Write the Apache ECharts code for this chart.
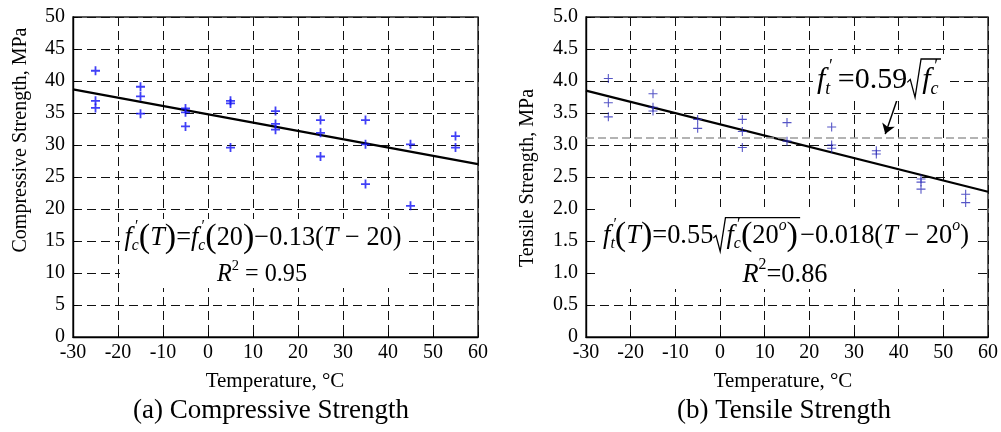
<!DOCTYPE html>
<html><head><meta charset="utf-8">
<script src="https://cdn.jsdelivr.net/npm/echarts@6/dist/echarts.min.js"></script>
<style>html,body{margin:0;padding:0;background:#fff}#c{width:1001px;height:432px}</style>
</head><body><div id="c"></div>
<script>
// ---------- data ----------
const compX = [-25,-25,-25,-15,-15,-15,-5,-5,-5,5,5,5,15,15,15,25,25,25,35,35,35,45,45,55,55];
const compY = [41.6,36.9,35.8,39.1,37.6,34.9,35.7,35.1,32.9,36.9,36.5,29.6,35.3,33.3,32.4,33.9,31.9,28.2,33.9,30.1,23.9,30.1,20.5,31.4,29.6];
const compFitX = [-30, 60];
const compFitY = [38.7, 27.0];

const tensX = [-25,-25,-25,-15,-15,-15,-5,-5,5,5,5,15,15,25,25,25,35,35,45,45,45,55,55];
const tensY = [4.04,3.66,3.44,3.80,3.59,3.53,3.40,3.26,3.40,3.21,2.96,3.35,3.06,3.28,3.00,2.95,2.91,2.86,2.47,2.42,2.31,2.23,2.10];
const tensFitX = [-30, 60];
const tensFitY = [3.85, 2.27];
const tensRef = 3.11;              // f't = 0.59 sqrt(f'c) level
const arrowFrom = [40.3, 3.84];
const arrowTo = [37.0, 3.17];

const xTicks = {min: -30, max: 60, step: 10};
const compTicks = {min: 0, max: 50, step: 5};
const tensTicks = {min: 0, max: 5, step: 0.5};

const texts = {
  compYTitle: 'Compressive Strength, MPa',
  tensYTitle: 'Tensile Strength, MPa',
  xTitle: 'Temperature, \u00B0C',
  capA: '(a) Compressive Strength',
  capB: '(b) Tensile Strength'
};

// ---------- helpers ----------
const zip = (a, b) => a.map((v, i) => [v, b[i]]);
const FF = '"Liberation Serif", "Times New Roman", serif';
const ctx = document.createElement('canvas').getContext('2d');
function fontStr(kind, S) {
  const m = {
    r: ['', 1], i: ['italic ', 1], sb: ['italic ', 0.6], pr: ['', 0.6],
    p: ['', 1.3], sup: ['', 0.6], supi: ['italic ', 0.6]
  }[kind];
  return m[0] + (S * m[1]).toFixed(2) + 'px ' + FF;
}
function tokWidth(t, S) {
  if (t[1] === 'rad') return 0.5 * S;
  if (t[1] === '/rad') return 0.08 * S;
  if (t[1] === 'pr') return 0;
  ctx.font = fontStr(t[1], S);
  return ctx.measureText(t[0]).width;
}
function eqn(tokens, cx, cy, targetW, S0) {
  let tot = tokens.reduce((s, t) => s + tokWidth(t, S0), 0);
  const S = S0 * targetW / tot;
  tot = tokens.reduce((s, t) => s + tokWidth(t, S), 0);
  let x = cx - tot / 2;
  const els = [];
  let radX = null;
  const dyMap = {r: 0, i: 0, sb: 0.3, pr: -0.42, p: 0, sup: -0.38, supi: -0.38};
  tokens.forEach(t => {
    const k = t[1];
    if (k === 'rad') { radX = x; x += 0.5 * S; return; }
    if (k === '/rad') {
      const x0 = radX, top = cy - 0.7 * S;
      els.push({type: 'polyline', z: 30, shape: {points: [
        [x0, cy + 0.08 * S], [x0 + 0.1 * S, cy - 0.02 * S], [x0 + 0.26 * S, cy + 0.58 * S],
        [x0 + 0.46 * S, top], [x + 0.08 * S, top]]},
        style: {stroke: '#000', lineWidth: 1.3, fill: null}});
      x += 0.08 * S; return;
    }
    const off = k === 'pr' ? 0.12 * S : 0;
    els.push({type: 'text', z: 30, x: x + off, y: cy + dyMap[k] * S,
      style: {text: t[0], font: fontStr(k, S), fill: '#000',
        textAlign: 'left', textVerticalAlign: 'middle', align: 'left', verticalAlign: 'middle'}});
    x += tokWidth(t, S);
  });
  return els;
}
function whiteBox(x, y, w, h) {
  return {type: 'rect', z: 20, shape: {x: x, y: y, width: w, height: h}, style: {fill: '#fff'}};
}
function label(txt, x, y, size, rot) {
  return {type: 'text', z: 30, x: x, y: y, rotation: rot || 0,
    style: {text: txt, font: size + 'px ' + FF, fill: '#000',
      textAlign: 'center', textVerticalAlign: 'middle', align: 'center', verticalAlign: 'middle'}};
}

const MINUS = '\u2212';
const eqLeft = [['f','i'],['\u2032','pr'],['c','sb'],['(','p'],['T','i'],[')','p'],['=','r'],
  ['f','i'],['\u2032','pr'],['c','sb'],['(','p'],['20','r'],[')','p'],[MINUS + '0.13(','r'],['T','i'],[' ' + MINUS + ' 20)','r']];
const r2Left = [['R','i'],['2','sup'],[' = 0.95','r']];
const eqRight = [['f','i'],['\u2032','pr'],['t','sb'],['(','p'],['T','i'],[')','p'],['=0.55','r'],['','rad'],
  ['f','i'],['\u2032','pr'],['c','sb'],['(','p'],['20','r'],['o','supi'],[')','p'],['','/rad'],
  [MINUS + '0.018','r'],['(','r'],['T','i'],[' ' + MINUS + ' 20','r'],['o','supi'],[')','r']];
const r2Right = [['R','i'],['2','sup'],['=0.86','r']];
const eqAnn = [['f','i'],['\u2032','pr'],['t','sb'],[' =0.59','r'],['','rad'],['f','i'],['\u2032','pr'],['c','sb'],['','/rad']];

// ---------- chart ----------
const plusBold = 'path://M4,0H6V4H10V6H6V10H4V6H0V4H4Z';
const plusThin = 'path://M4.4,0H5.6V4.4H10V5.6H5.6V10H4.4V5.6H0V4.4H4.4Z';
const split = {show: true, lineStyle: {color: '#111', type: [9, 5], width: 1}};
const tickLbl = {fontFamily: FF, fontSize: 20, color: '#000'};
function xAxis(gi) {
  return {gridIndex: gi, type: 'value', min: xTicks.min, max: xTicks.max, interval: xTicks.step,
    axisLine: {onZero: false, lineStyle: {color: '#000', width: 1.4}},
    axisTick: {inside: true, length: 5, lineStyle: {color: '#000'}},
    axisLabel: Object.assign({margin: 6}, tickLbl), splitLine: split};
}
function yAxis(gi, t, fmt) {
  return {gridIndex: gi, type: 'value', min: t.min, max: t.max, interval: t.step,
    axisLine: {onZero: false, lineStyle: {color: '#000', width: 1.4}},
    axisTick: {inside: true, length: 5, lineStyle: {color: '#000'}},
    axisLabel: Object.assign({margin: 8, formatter: fmt}, tickLbl), splitLine: split};
}

const chart = echarts.init(document.getElementById('c'), null, {renderer: 'canvas'});
chart.setOption({
  animation: false,
  backgroundColor: '#fff',
  grid: [
    {left: 73, top: 17, width: 405, height: 320, show: true, borderColor: '#222', borderWidth: 1.4},
    {left: 586, top: 17, width: 404, height: 320, show: true, borderColor: '#222', borderWidth: 1.4}
  ],
  xAxis: [xAxis(0), xAxis(1)],
  yAxis: [yAxis(0, compTicks, v => String(v)),
          yAxis(1, tensTicks, v => v === 0 ? '0' : v.toFixed(1))],
  series: [
    {type: 'line', xAxisIndex: 0, yAxisIndex: 0, data: zip(compFitX, compFitY), showSymbol: false,
      lineStyle: {color: '#000', width: 2.2}, z: 3, silent: true},
    {type: 'scatter', xAxisIndex: 0, yAxisIndex: 0, data: zip(compX, compY), symbol: plusBold,
      symbolSize: 9, itemStyle: {color: '#1010f5'}, z: 4},
    {type: 'line', xAxisIndex: 1, yAxisIndex: 1, data: zip(tensFitX, tensFitY), showSymbol: false,
      lineStyle: {color: '#000', width: 2.2}, z: 3, silent: true,
      markLine: {silent: true, symbol: ['none', 'none'], label: {show: false},
        lineStyle: {color: '#9a9a9a', type: [8, 4], width: 1.5},
        data: [{yAxis: tensRef}]}},
    {type: 'scatter', xAxisIndex: 1, yAxisIndex: 1, data: zip(tensX, tensY), symbol: plusThin,
      symbolSize: 9, itemStyle: {color: '#2a2ab8'}, z: 4,
      markLine: {silent: true, symbol: ['none', 'arrow'], symbolSize: 10, label: {show: false},
        lineStyle: {color: '#000', type: 'solid', width: 1.5},
        data: [[{coord: arrowFrom}, {coord: arrowTo}]]}}
  ],
  graphic: [].concat(
    [whiteBox(120, 219, 284, 69), whiteBox(596, 207, 380, 82), whiteBox(813, 58, 132, 43)],
    eqn(eqLeft, 263, 238, 277, 22),
    eqn(r2Left, 262, 275, 90, 22),
    eqn(eqRight, 786, 236, 366, 22),
    eqn(r2Right, 785, 275, 85, 22),
    eqn(eqAnn, 879, 80, 124, 22),
    [label(texts.compYTitle, 21, 140, 20, Math.PI / 2),
     label(texts.tensYTitle, 528, 178, 20, Math.PI / 2),
     label(texts.xTitle, 275, 381, 21),
     label(texts.xTitle, 783, 381, 21),
     label(texts.capA, 271, 411, 27),
     label(texts.capB, 784, 411, 27)]
  )
});
</script>
</body></html>
